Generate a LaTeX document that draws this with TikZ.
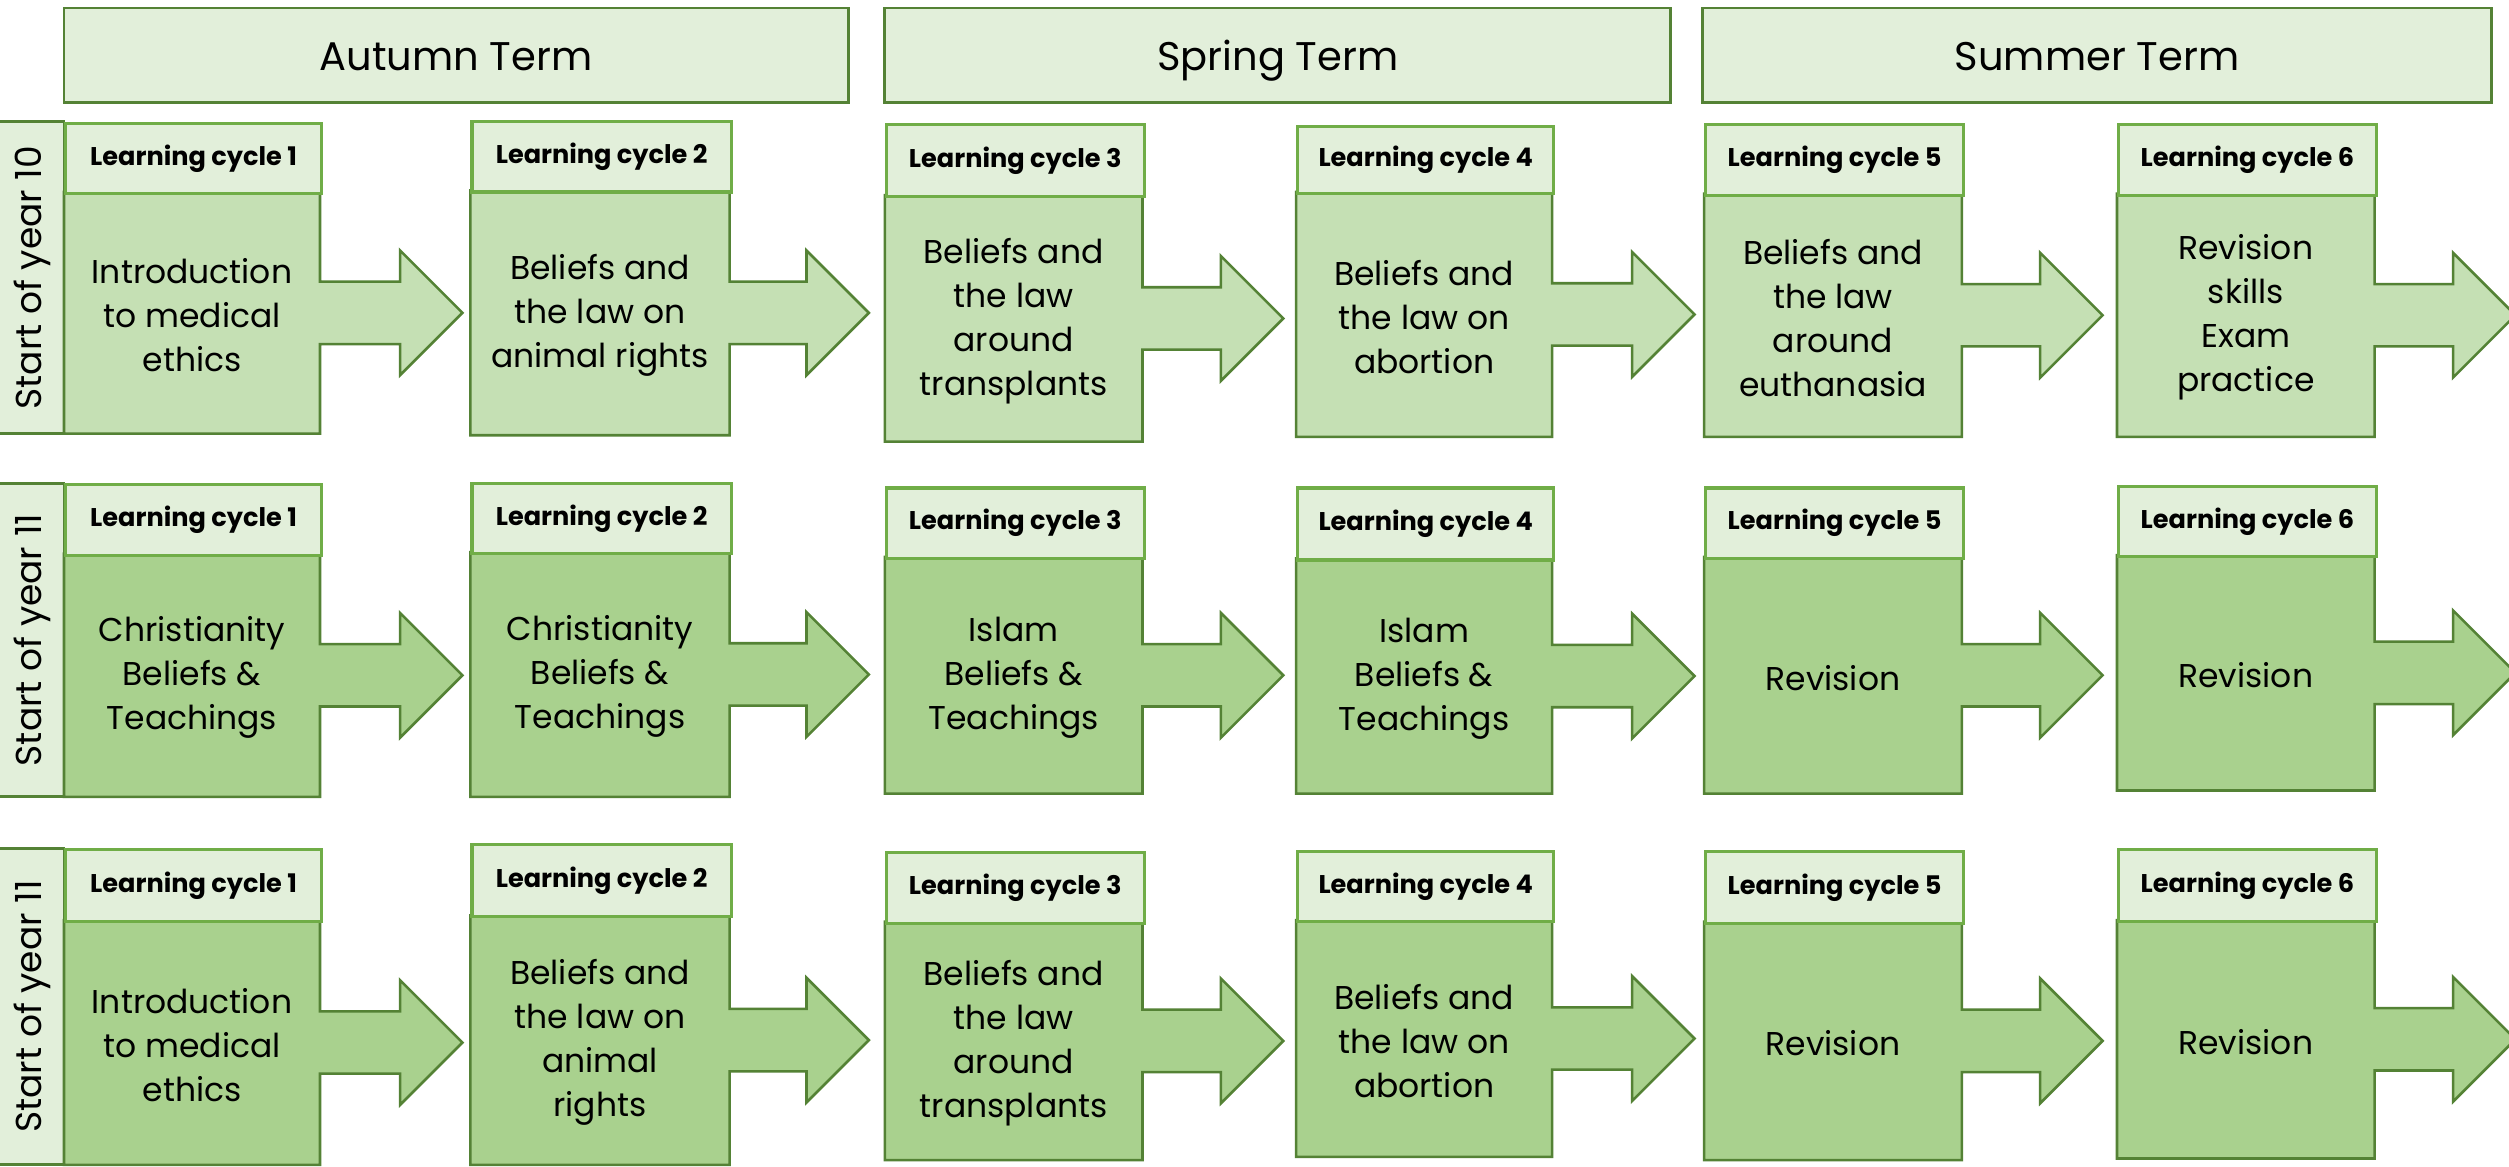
\documentclass[tikz,border=0pt]{standalone}
\usepackage{fontspec}
\setmainfont{Poppins}
\definecolor{hdrfill}{HTML}{E2EFDA}
\definecolor{hdrline}{HTML}{70AD47}
\definecolor{darkline}{HTML}{548235}
\definecolor{bodyA}{HTML}{C5E0B4}
\definecolor{bodyB}{HTML}{A9D18E}
\tikzset{
  termbox/.style={draw=darkline, line width=1.8pt, fill=hdrfill},
  termtext/.style={inner sep=0pt, anchor=base, font=\fontsize{25}{30}\selectfont},
  rowbox/.style={draw=darkline, line width=1.8pt, fill=hdrfill},
  rowtext/.style={rotate=90, inner sep=0pt, font=\fontsize{22.5}{26}\selectfont},
  cychead/.style={draw=hdrline, line width=2pt, fill=hdrfill, inner sep=0pt,
    anchor=north west, font=\fontsize{16}{19}\selectfont\bfseries},
  bodyline/.style={draw=darkline, line width=1.6pt, line join=miter},
  bodytext/.style={align=center, inner sep=0pt, font=\fontsize{20.6}{27.5}\selectfont},
}
% #1 name, #2 L, #3 R, #4 T, #5 header bottom, #6 body bottom, #7 fill, #8 cycle no, #9 text
\newcommand\lcell[9]{%
  \pgfmathsetmacro\cy{(#5+#6)/2}%
  \pgfmathsetmacro\hx{#2+210}%
  \pgfmathsetmacro\tx{#2+249}%
  \pgfmathsetmacro\cw{#3-#2}%
  \pgfmathsetmacro\ch{#5-#4}%
  \pgfmathsetmacro\mx{(#2+#3)/2}%
  \draw[bodyline, fill=#7] (#2,#5) -- (#3,#5) -- (#3,\cy-19.5) -- (\hx,\cy-19.5)
    -- (\hx,\cy-39) -- (\tx,\cy) -- (\hx,\cy+39) -- (\hx,\cy+19.5)
    -- (#3,\cy+19.5) -- (#3,#6) -- (#2,#6) -- cycle;
  \node[bodytext] (b#1) at (\mx,\cy+1.5) {#9};
  \node[cychead, minimum width=\cw pt, minimum height=\ch pt] (h#1) at (#2,#4) {Learning cycle #8};
}
\begin{document}
\begin{tikzpicture}[x=1pt, y=-1pt]
\useasboundingbox (0,0) rectangle (1568,729);
\clip (0,0) rectangle (1568,729);
\fill[white] (0,0) rectangle (1568,729);

% term headers
\draw[termbox] (40,5) rectangle (530,64);
\node[termtext] (autumn) at (285,44) {Autumn Term};
\draw[termbox] (553,5) rectangle (1044,64);
\node[termtext] (spring) at (798.5,44) {Spring Term};
\draw[termbox] (1064,5) rectangle (1557,64);
\node[termtext] (summer) at (1310.5,44) {Summer Term};

% row labels
\draw[rowbox] (-5,76) rectangle (40,271);
\node[rowtext] (row1) at (20,173.5) {Start of year 10};
\draw[rowbox] (-5,302) rectangle (40,498);
\node[rowtext] (row2) at (20,400) {Start of year 11};
\draw[rowbox] (-5,530) rectangle (40,728);
\node[rowtext] (row3) at (20,629) {Start of year 11};

% row 1
\lcell{11}{40}{200}{76}{120}{271}{bodyA}{1}{Introduction\\to medical\\ethics}
\lcell{12}{294}{456}{75}{119}{272}{bodyA}{2}{Beliefs and\\the law on\\animal rights}
\lcell{13}{553}{714}{77}{122}{276}{bodyA}{3}{Beliefs and\\the law\\around\\transplants}
\lcell{14}{810}{970}{78}{120}{273}{bodyA}{4}{Beliefs and\\the law on\\abortion}
\lcell{15}{1065}{1226}{77}{121}{273}{bodyA}{5}{Beliefs and\\the law\\around\\euthanasia}
\lcell{16}{1323}{1484}{77}{121}{273}{bodyA}{6}{Revision\\skills\\Exam\\practice}

% row 2
\lcell{21}{40}{200}{302}{346}{498}{bodyB}{1}{Christianity\\Beliefs \&\\Teachings}
\lcell{22}{294}{456}{301}{345}{498}{bodyB}{2}{Christianity\\Beliefs \&\\Teachings}
\lcell{23}{553}{714}{304}{348}{496}{bodyB}{3}{Islam\\Beliefs \&\\Teachings}
\lcell{24}{810}{970}{304}{349}{496}{bodyB}{4}{Islam\\Beliefs \&\\Teachings}
\lcell{25}{1065}{1226}{304}{348}{496}{bodyB}{5}{Revision}
\lcell{26}{1323}{1484}{303}{347}{494}{bodyB}{6}{Revision}

% row 3
\lcell{31}{40}{200}{530}{575}{728}{bodyB}{1}{Introduction\\to medical\\ethics}
\lcell{32}{294}{456}{527}{572}{728}{bodyB}{2}{Beliefs and\\the law on\\animal\\rights}
\lcell{33}{553}{714}{532}{576}{725}{bodyB}{3}{Beliefs and\\the law\\around\\transplants}
\lcell{34}{810}{970}{531}{575}{723}{bodyB}{4}{Beliefs and\\the law on\\abortion}
\lcell{35}{1065}{1226}{531}{576}{725}{bodyB}{5}{Revision}
\lcell{36}{1323}{1484}{530}{575}{724}{bodyB}{6}{Revision}
\end{tikzpicture}
\end{document}
